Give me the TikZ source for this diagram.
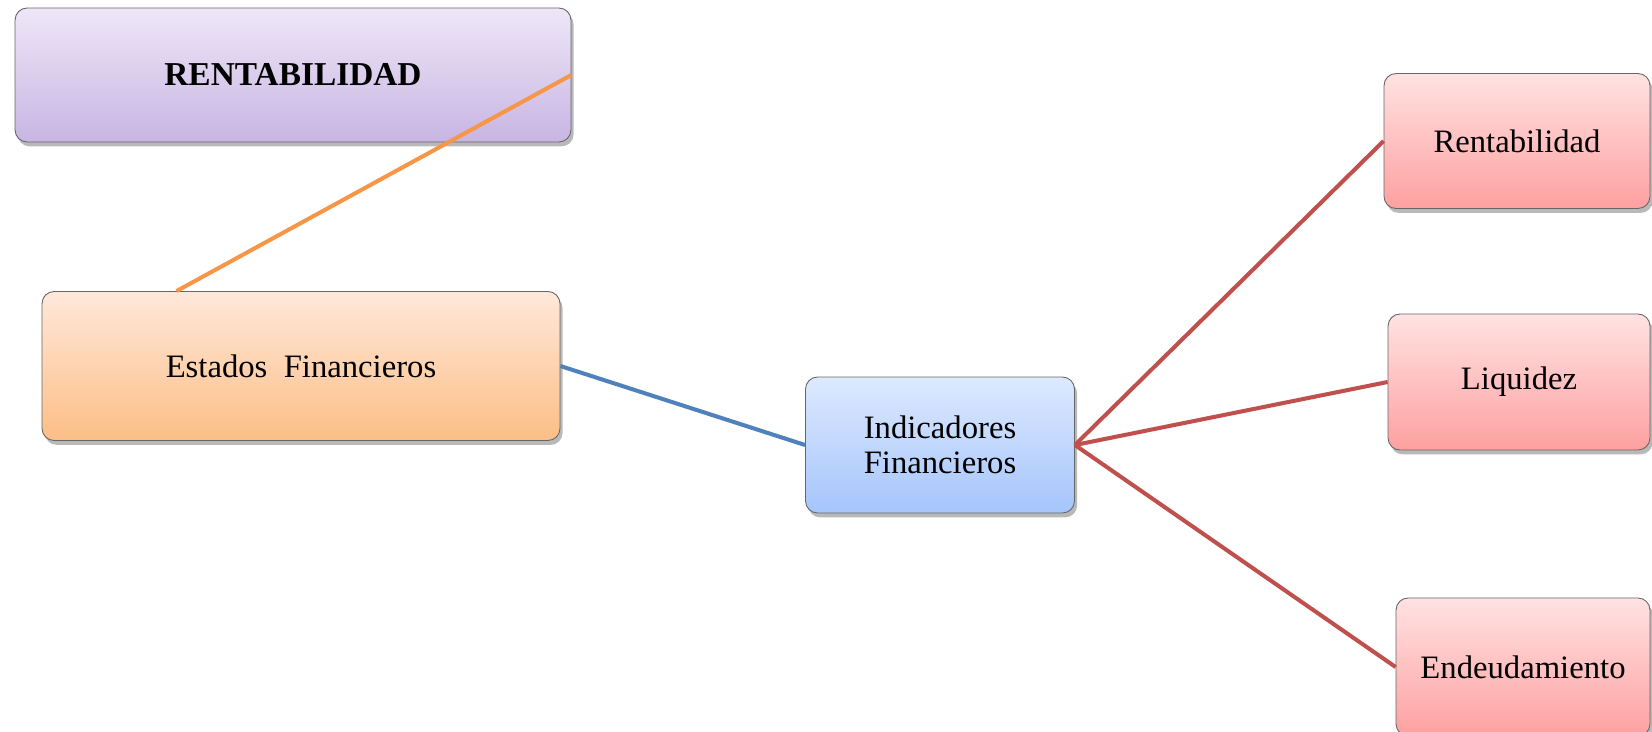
\documentclass[tikz,border=0pt]{standalone}
\usepackage{fontspec}
\setmainfont{Liberation Serif}
\usetikzlibrary{calc}
\usetikzlibrary{shadows}
\definecolor{lilaTop}{HTML}{EEE7F7}
\definecolor{lilaBot}{HTML}{C8B5E3}
\definecolor{naranjaTop}{HTML}{FFE8DA}
\definecolor{naranjaBot}{HTML}{FCBE86}
\definecolor{azulTop}{HTML}{DDE9FE}
\definecolor{azulBot}{HTML}{A5C5FB}
\definecolor{rojoTop}{HTML}{FFE2E2}
\definecolor{rojoBot}{HTML}{FEA0A0}
\definecolor{lineaNaranja}{HTML}{F79646}
\definecolor{lineaAzul}{HTML}{4F81BD}
\definecolor{lineaRoja}{HTML}{C0504D}

\begin{document}
\begin{tikzpicture}[x=0.02cm,y=-0.02cm,
        box/.style={draw=gray!80!black, line width=0.5pt, rounded corners=0.24cm, align=center,
            font=\fontsize{18.6}{20}\selectfont, inner sep=0pt,
            drop shadow={shadow xshift=1.5pt, shadow yshift=-2.5pt, opacity=0.55}},
        link/.style={line width=2.3pt}]
        % Frame
        \useasboundingbox (0,0) rectangle (1652,731);

        % Title box
        \node[box, top color=lilaTop, bottom color=lilaBot, minimum width=11.12cm, minimum height=2.68cm,
            font=\fontsize{19}{21}\selectfont\bfseries] (titulo) at (293,75) {RENTABILIDAD};

        % Left and middle boxes
        \node[box, top color=naranjaTop, bottom color=naranjaBot, minimum width=10.36cm, minimum height=2.98cm] (estados) at (301,366) {Estados\ \ Financieros};
        \node[box, top color=azulTop, bottom color=azulBot, minimum width=5.38cm, minimum height=2.72cm] (indicadores) at (940,445) {Indicadores\\Financieros};

        % Right boxes
        \node[box, top color=rojoTop, bottom color=rojoBot, minimum width=5.32cm, minimum height=2.7cm] (rentab) at (1517,141) {Rentabilidad};
        \node[box, top color=rojoTop, bottom color=rojoBot, minimum width=5.24cm, minimum height=2.72cm] (liquidez) at (1519,382) {Liquidez};
        \node[box, top color=rojoTop, bottom color=rojoBot, minimum width=5.08cm, minimum height=2.76cm] (endeuda) at (1523,667) {Endeudamiento};

        % Connectors
        \coordinate (estTop) at ($(estados.north west)!0.26!(estados.north east)$);
        \draw[link, lineaNaranja] (estTop) -- (titulo.east);
        \draw[link, lineaAzul] (estados.east) -- (indicadores.west);
        \draw[link, lineaRoja] (indicadores.east) -- (rentab.west);
        \draw[link, lineaRoja] (indicadores.east) -- (liquidez.west);
        \draw[link, lineaRoja] (indicadores.east) -- (endeuda.west);
\end{tikzpicture}
\end{document}
